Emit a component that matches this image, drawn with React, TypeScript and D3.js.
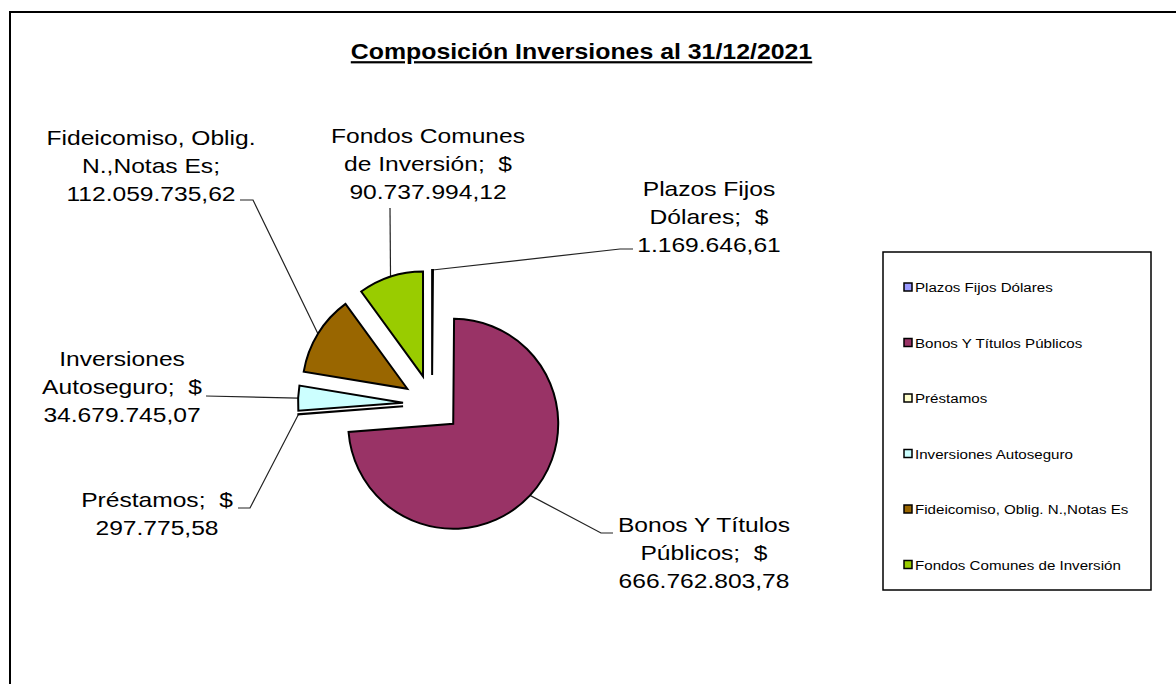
import React from 'react';
import * as d3 from 'd3';

const categories = [
  'Plazos Fijos Dólares',
  'Bonos Y Títulos Públicos',
  'Préstamos',
  'Inversiones Autoseguro',
  'Fideicomiso, Oblig. N.,Notas Es',
  'Fondos Comunes de Inversión',
];
const values = [1169646.61, 666762803.78, 297775.58, 34679745.07, 112059735.62, 90737994.12];
const colors = ['#9999FF', '#993366', '#FFFFCC', '#CCFFFF', '#996600', '#99CC00'];
const labelHeads = [
  ['Plazos Fijos', 'Dólares;  $'],
  ['Bonos Y Títulos', 'Públicos;  $'],
  ['Préstamos;  $'],
  ['Inversiones', 'Autoseguro;  $'],
  ['Fideicomiso, Oblig.', 'N.,Notas Es;'],
  ['Fondos Comunes', 'de Inversión;  $'],
];
const title = 'Composición Inversiones al 31/12/2021';

// layout (label anchor centre x, first baseline y, leader path points near label)
const labelLayout = [
  { x: 709, y: 195.7, leader: [[620, 249], [633, 249]] },
  { x: 704, y: 532.3, leader: [[601, 533], [613, 533]] },
  { x: 157, y: 507, leader: [[250, 508], [238, 508]] },
  { x: 122, y: 365.7, leader: [[206, 396]] },
  { x: 151, y: 144.7, leader: [[253, 200], [240, 200]] },
  { x: 428, y: 143.3, leader: [[390, 208]] },
];

const FONT = '"Liberation Sans", Arial, Helvetica, sans-serif';

export default function App() {
  const W = 1176;
  const H = 684;
  const cx = 432;
  const cy = 404;
  const R = 105;
  const explode = 29;
  const lineH = 28;

  const locale = d3.formatLocale({ decimal: ',', thousands: '.', grouping: [3], currency: ['$', ''] });
  const fmt = locale.format(',.2f');

  const pie = d3.pie<number>().sort(null).value((d) => d);
  const arcs = pie(values);
  const arcGen = d3.arc<d3.PieArcDatum<number>>().innerRadius(0).outerRadius(R);

  const slices = arcs.map((a, i) => {
    const mid = (a.startAngle + a.endAngle) / 2;
    const dx = Math.sin(mid) * explode;
    const dy = -Math.cos(mid) * explode;
    const ox = cx + dx + Math.sin(mid) * R;
    const oy = cy + dy - Math.cos(mid) * R;
    return { a, i, dx, dy, ox, oy };
  });

  const legendX = 883;
  const legendY = 252;
  const legendW = 268;
  const legendH = 338;
  const legendStep = 55.5;
  const legendFirst = 287;

  return (
    <svg
      width={W}
      height={H}
      style={{ position: 'absolute', left: 0, top: 0, display: 'block', background: '#fff' }}
    >
      <rect x={0} y={0} width={W} height={H} fill="#fff" />
      <path d={`M10,${H + 10} V12 H${W + 10}`} fill="none" stroke="#000" strokeWidth={2} />

      <text
        transform={`translate(581.5,59.3) scale(1.13,1)`}
        textAnchor="middle"
        fontFamily={FONT}
        fontWeight="bold"
        fontSize={22}
        fill="#000"
        textDecoration="underline"
        style={{ whiteSpace: 'pre' }}
      >
        {title}
      </text>

      {/* leader lines */}
      {slices.map((s) => {
        const pts = [[s.ox, s.oy], ...labelLayout[s.i].leader];
        return (
          <path
            key={'l' + s.i}
            d={d3.line()(pts as [number, number][]) || ''}
            fill="none"
            stroke="#222"
            strokeWidth={1.2}
          />
        );
      })}

      {/* slices */}
      {slices.map((s) => (
        <path
          key={'s' + s.i}
          d={arcGen(s.a) || ''}
          transform={`translate(${cx + s.dx},${cy + s.dy})`}
          fill={colors[s.i]}
          stroke="#000"
          strokeWidth={2}
          strokeLinejoin="miter"
        />
      ))}

      {/* labels */}
      {slices.map((s) => {
        const L = labelLayout[s.i];
        const lines = [...labelHeads[s.i], fmt(values[s.i])];
        return (
          <text
            key={'t' + s.i}
            transform={`translate(${L.x},${L.y}) scale(1.2,1)`}
            textAnchor="middle"
            fontFamily={FONT}
            fontSize={20.5}
            fill="#000"
            style={{ whiteSpace: 'pre' }}
          >
            {lines.map((ln, k) => (
              <tspan key={k} x={0} y={k * lineH}>
                {ln}
              </tspan>
            ))}
          </text>
        );
      })}

      {/* legend */}
      <rect x={legendX} y={legendY} width={legendW} height={legendH} fill="#fff" stroke="#000" strokeWidth={1.5} />
      {categories.map((c, i) => {
        const y = legendFirst + i * legendStep;
        return (
          <g key={'g' + i}>
            <rect x={904} y={y - 4} width={8} height={8} fill={colors[i]} stroke="#000" strokeWidth={1.5} />
            <text
              transform={`translate(915,${y + 5}) scale(1.12,1)`}
              fontFamily={FONT}
              fontSize={13.5}
              fill="#000"
              style={{ whiteSpace: 'pre' }}
            >
              {c}
            </text>
          </g>
        );
      })}
    </svg>
  );
}
